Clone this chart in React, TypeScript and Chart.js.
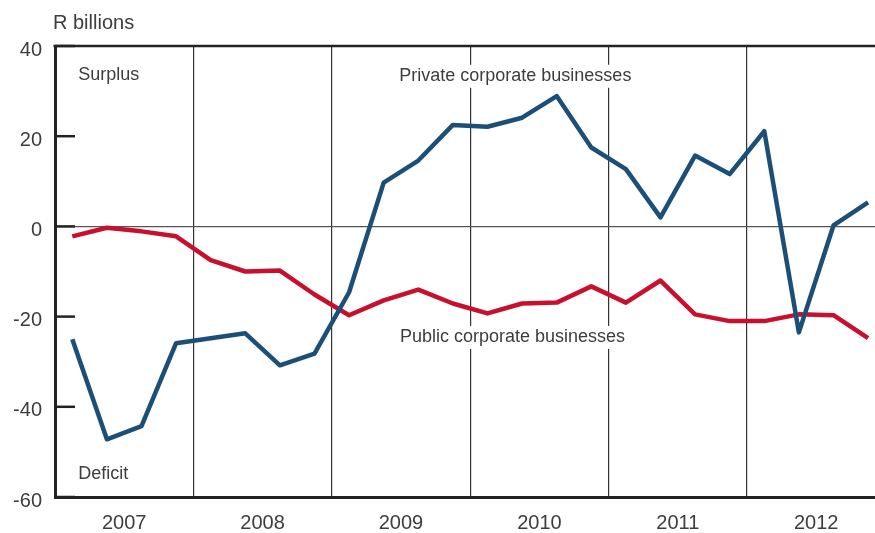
import React, { useEffect, useRef } from 'react';
import { Chart, registerables } from 'chart.js';

Chart.register(...registerables);

const QUARTERS = [
  '2007Q1', '2007Q2', '2007Q3', '2007Q4',
  '2008Q1', '2008Q2', '2008Q3', '2008Q4',
  '2009Q1', '2009Q2', '2009Q3', '2009Q4',
  '2010Q1', '2010Q2', '2010Q3', '2010Q4',
  '2011Q1', '2011Q2', '2011Q3', '2011Q4',
  '2012Q1', '2012Q2', '2012Q3', '2012Q4',
];
const YEARS = ['2007', '2008', '2009', '2010', '2011', '2012'];

const PRIVATE = [
  -25.0, -47.2, -44.3, -25.9,
  -24.8, -23.7, -30.8, -28.2,
  -14.6, 9.7, 14.6, 22.5,
  22.1, 24.1, 28.9, 17.5,
  12.7, 2.0, 15.7, 11.6,
  21.1, -23.5, 0.2, 5.3,
];
const PUBLIC = [
  -2.2, -0.3, -1.1, -2.2,
  -7.5, -10.0, -9.8, -15.1,
  -19.7, -16.4, -14.0, -17.1,
  -19.3, -17.1, -16.9, -13.3,
  -16.9, -12.0, -19.5, -21.0,
  -21.0, -19.5, -19.7, -24.8,
];

const Y_MIN = -60;
const Y_MAX = 40;
const Y_STEP = 20;
const UNIT_LABEL = 'R billions';

// annotation texts placed in data coordinates (quarter index, value)
const NOTES = [
  { text: 'Surplus', x: 0.17, y: 33.5 },
  { text: 'Deficit', x: 0.17, y: -54.9 },
  { text: 'Private corporate businesses', x: 9.45, y: 33.4 },
  { text: 'Public corporate businesses', x: 9.47, y: -24.5 },
];

const X_MIN = -0.5;
const X_MAX = 23.2;

const FONT = '"Liberation Sans", Arial, Helvetica, sans-serif';
const TEXT = '#3d3d3d';
const DARK = '#222222';
const BLUE = '#1b4f78';
const RED = '#c8102e';

const yearCenter = (i: number) => i * 4 + 1.5;
const yearBoundary = (i: number) => i * 4 + 3.5;

const X_TICKS: number[] = YEARS.flatMap((_, i) => [yearCenter(i), yearBoundary(i)]).filter(
  (v) => v <= X_MAX
);

const decorPlugin = {
  id: 'decor',
  beforeDatasetsDraw(chart: any) {
    const { ctx, chartArea, scales } = chart;
    const xs = scales.x;
    const ys = scales.y;
    ctx.save();
    // top border
    ctx.strokeStyle = DARK;
    ctx.lineWidth = 2.5;
    ctx.beginPath();
    ctx.moveTo(chartArea.left - 1.5, chartArea.top);
    ctx.lineTo(chartArea.right, chartArea.top);
    ctx.stroke();
    // inward y ticks
    ctx.lineWidth = 2.5;
    ys.ticks.forEach((t: any) => {
      const py = ys.getPixelForValue(t.value);
      ctx.beginPath();
      ctx.moveTo(chartArea.left, py);
      ctx.lineTo(chartArea.left + 20, py);
      ctx.stroke();
    });
    // notes with white background
    ctx.font = `18px ${FONT}`;
    ctx.textBaseline = 'middle';
    ctx.textAlign = 'left';
    NOTES.forEach((n) => {
      const px = xs.getPixelForValue(n.x);
      const py = ys.getPixelForValue(n.y);
      const w = ctx.measureText(n.text).width;
      ctx.fillStyle = '#ffffff';
      ctx.fillRect(px - 4, py - 11, w + 8, 23);
      ctx.fillStyle = TEXT;
      ctx.fillText(n.text, px, py);
    });
    // unit label
    ctx.font = `20px ${FONT}`;
    ctx.fillStyle = TEXT;
    ctx.fillText(UNIT_LABEL, chartArea.left - 2, 23);
    ctx.restore();
  },
};

export default function App() {
  const ref = useRef<HTMLCanvasElement | null>(null);

  useEffect(() => {
    if (!ref.current) return;
    const chart = new Chart(ref.current, {
      type: 'line',
      data: {
        labels: QUARTERS,
        datasets: [
          {
            label: 'Private corporate businesses',
            data: PRIVATE.map((v, i) => ({ x: i, y: v })),
            borderColor: BLUE,
            borderWidth: 4.5,
            pointRadius: 0,
            tension: 0,
            borderJoinStyle: 'round',
            fill: false,
          },
          {
            label: 'Public corporate businesses',
            data: PUBLIC.map((v, i) => ({ x: i, y: v })),
            borderColor: RED,
            borderWidth: 4.5,
            pointRadius: 0,
            tension: 0,
            borderJoinStyle: 'round',
            fill: false,
          },
        ],
      },
      options: {
        animation: false,
        responsive: true,
        maintainAspectRatio: false,
        layout: { padding: { top: 46, left: 0, right: 0, bottom: 0 } },
        plugins: {
          legend: { display: false },
          tooltip: { enabled: false },
          title: { display: false },
        },
        scales: {
          x: {
            type: 'linear',
            min: X_MIN,
            max: X_MAX,
            afterBuildTicks: (scale: any) => {
              scale.ticks = X_TICKS.map((v) => ({ value: v }));
            },
            afterFit: (scale: any) => {
              scale.height = 36;
            },
            ticks: {
              autoSkip: false,
              maxRotation: 0,
              minRotation: 0,
              padding: 14,
              color: TEXT,
              font: { family: FONT, size: 20 },
              callback: (value: any) => {
                const v = Number(value);
                const idx = (v - 1.5) / 4;
                return Number.isInteger(idx) ? YEARS[idx] : '';
              },
            },
            grid: {
              drawTicks: false,
              lineWidth: 1.2,
              color: (c: any) =>
                c.tick && Number.isInteger((c.tick.value - 3.5) / 4) ? '#333333' : 'rgba(0,0,0,0)',
            },
            border: { display: true, color: DARK, width: 3 },
          },
          y: {
            min: Y_MIN,
            max: Y_MAX,
            afterFit: (scale: any) => {
              scale.width = 55;
            },
            ticks: {
              stepSize: Y_STEP,
              padding: 13,
              labelOffset: 4,
              color: TEXT,
              font: { family: FONT, size: 20 },
            },
            grid: {
              drawTicks: false,
              lineWidth: 1.2,
              color: (c: any) => (c.tick && c.tick.value === 0 ? '#555555' : 'rgba(0,0,0,0)'),
            },
            border: { display: true, color: DARK, width: 3 },
          },
        },
      },
      plugins: [decorPlugin],
    } as any);
    return () => chart.destroy();
  }, []);

  return (
    <div style={{ position: 'fixed', left: 0, top: 0, width: 875, height: 533, background: '#fff' }}>
      <canvas ref={ref} />
    </div>
  );
}
